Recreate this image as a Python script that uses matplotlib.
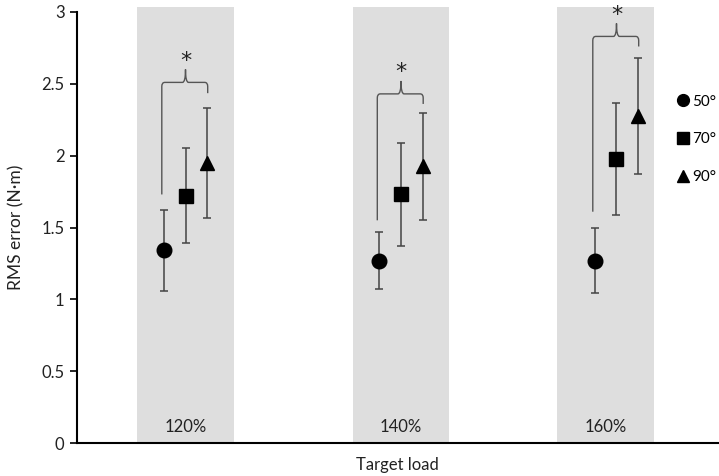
import numpy as np
import matplotlib.pyplot as plt
from matplotlib.path import Path
from matplotlib.patches import PathPatch
from matplotlib.lines import Line2D

plt.rcParams['font.family'] = ['Lato', 'DejaVu Sans']

# data
loads = ['120%', '140%', '160%']
angles = ['50°', '70°', '90°']
mean_50 = [1.34, 1.27, 1.27]
err_50 = [0.28, 0.20, 0.225]
mean_70 = [1.72, 1.73, 1.98]
err_70 = [0.33, 0.36, 0.39]
mean_90 = [1.95, 1.925, 2.275]
err_90 = [0.385, 0.375, 0.405]
# significance brackets: left end, top, right end
brk_left = [1.73, 1.55, 1.61]
brk_top = [2.51, 2.43, 2.83]
brk_right = [2.435, 2.36, 2.76]

grp = np.array([1, 2, 3])
band_pos = [1.0, 2.0, 2.95]

fig = plt.figure(figsize=(7.19, 4.76), dpi=100)
ax = fig.add_axes([0.1071, 0.0693, 0.8915, 0.9055])

ax.bar(band_pos, [3.035] * 3, width=0.45, color='#dedede', zorder=0, clip_on=False)
for p, lab in zip(band_pos, loads):
    ax.text(p, 0.11, lab, ha='center', va='center', fontsize=12, color='#222222')

ekw = dict(ls='none', ecolor='#444444', elinewidth=1.1, capsize=3, capthick=1.1, color='black', ms=10.5, zorder=3)
ax.errorbar(grp - 0.1, mean_50, yerr=err_50, marker='o', **ekw)
ax.errorbar(grp, mean_70, yerr=err_70, marker='s', **ekw)
ax.errorbar(grp + 0.1, mean_90, yerr=err_90, marker='^', **ekw)

# brackets
rx, ry, cy = 0.014, 0.028, 0.09
for g, yl, yt, yr in zip(grp, brk_left, brk_top, brk_right):
    xl, xm, xr = g - 0.11, g, g + 0.103
    verts = [(xl, yl), (xl, yt - ry), (xl, yt), (xl + rx, yt),
             (xm - rx, yt), (xm, yt), (xm, yt + cy),
             (xm, yt), (xm + rx, yt),
             (xr - rx, yt), (xr, yt), (xr, yt - ry), (xr, yr)]
    codes = [Path.MOVETO, Path.LINETO, Path.CURVE3, Path.CURVE3,
             Path.LINETO, Path.CURVE3, Path.CURVE3,
             Path.CURVE3, Path.CURVE3,
             Path.LINETO, Path.CURVE3, Path.CURVE3, Path.LINETO]
    ax.add_patch(PathPatch(Path(verts, codes), fill=False, ec='#555555', lw=1, zorder=2))
    ax.text(xm, yt + cy - 0.01, '*', ha='center', va='bottom', fontsize=16,
            family='DejaVu Sans', color='#222222')

ax.set_xlim(0.4965, 3.471)
ax.set_ylim(0, 3)
ax.set_yticks([0, 0.5, 1, 1.5, 2, 2.5, 3])
ax.set_yticklabels(['0', '0.5', '1', '1.5', '2', '2.5', '3'])
ax.set_xticks([])
ax.tick_params(axis='y', length=5, width=1.2, labelsize=12, pad=4, labelcolor='#222222')
for s in ['top', 'right']:
    ax.spines[s].set_visible(False)
for s in ['left', 'bottom']:
    ax.spines[s].set_linewidth(1.5)
ax.set_xlabel('Target load', fontsize=12, labelpad=10, color='#222222')
ax.set_ylabel('RMS error (N·m)', fontsize=12.5, labelpad=12, color='#222222')

handles = [Line2D([], [], ls='none', marker=m, color='black', ms=8.5) for m in ['o', 's', '^']]
ax.legend(handles, angles, loc='upper left', bbox_to_anchor=(0.922, 0.83), frameon=False,
          handlelength=0.8, handletextpad=0.2, labelspacing=1.55, fontsize=11,
          bbox_transform=fig.transFigure)

fig.savefig('out.png', dpi=100)
